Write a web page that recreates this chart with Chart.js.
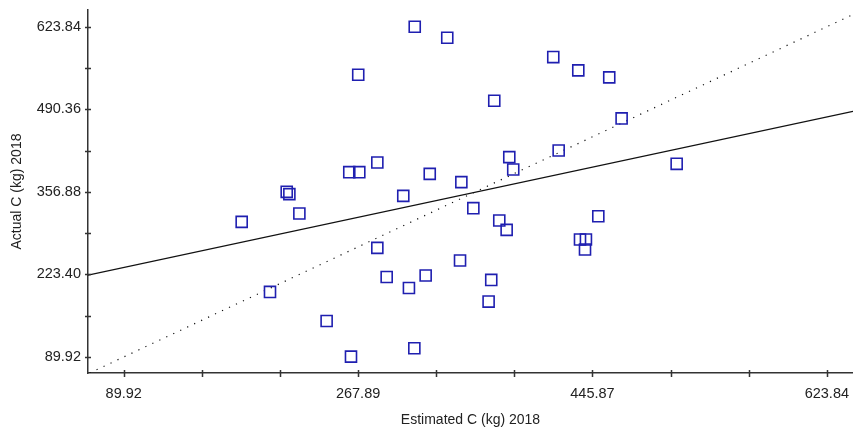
<!DOCTYPE html>
<html lang="en">
<head>
    <meta charset="UTF-8">
    <title>Estimated vs Actual C 2018</title>
    <script src="https://cdn.jsdelivr.net/npm/chart.js"></script>
    <style>
        body {
            margin: 0;
            padding: 0;
            background: #fff;
        }
        canvas {
            display: block;
        }
    </style>
</head>
<body>
    <canvas id="scatterChart" width="853" height="433"></canvas>

    <script>
        // values
        const estimated = [310.9, 335.6, 268.0, 416.1, 435.1, 458.6, 371.3, 468.0, 382.7, 385.7,
                           420.2, 282.5, 261.2, 268.8, 322.3, 346.3, 302.2, 355.4, 213.7, 215.7,
                           223.3, 179.5, 375.1, 380.7, 450.3, 436.4, 440.9, 440.2, 282.5, 345.3,
                           289.6, 319.2, 306.5, 369.0, 367.0, 201.0, 244.0, 262.5, 310.6, 509.8];
        const actual = [623.8, 606.0, 546.2, 574.8, 553.3, 542.0, 504.1, 475.6, 413.0, 393.1,
                        423.8, 404.4, 388.7, 388.7, 386.0, 372.6, 350.4, 330.5, 356.9, 353.2,
                        321.9, 308.3, 310.6, 295.4, 317.5, 279.8, 279.8, 263.7, 266.3, 245.9,
                        219.3, 221.6, 201.5, 214.5, 179.5, 195.1, 148.1, 90.5, 104.0, 402.2];

        const xTickValues = [89.92, 149.24, 208.57, 267.89, 327.21, 386.54, 445.87, 505.19, 564.52, 623.84];
        const xTickLabels = ['89.92', '', '', '267.89', '', '', '445.87', '', '', '623.84'];
        const yTickValues = [89.92, 156.66, 223.40, 290.14, 356.88, 423.62, 490.36, 557.10, 623.84];
        const yTickLabels = ['89.92', '', '223.40', '', '356.88', '', '490.36', '', '623.84'];

        const xRange = [62.8, 643.7];
        const yRange = [64.0, 650.9];

        // fitted line
        const fitSlope = 0.456;
        const fitIntercept = 193.6;

        const points = estimated.map((x, i) => ({ x: x, y: actual[i] }));
        const fitLine = xRange.map(x => ({ x: x, y: fitIntercept + fitSlope * x }));
        const lo = Math.max(xRange[0], yRange[0]);
        const hi = Math.min(xRange[1], yRange[1]);
        const oneToOne = [{ x: lo, y: lo }, { x: hi, y: hi }];

        const axisColor = '#333';
        const textColor = '#222';

        // tick marks that cross the axis line
        const crossTicks = {
            id: 'crossTicks',
            afterDraw(chart) {
                const ctx = chart.ctx;
                const xs = chart.scales.x;
                const ys = chart.scales.y;
                ctx.save();
                ctx.strokeStyle = axisColor;
                ctx.lineWidth = 1.5;
                ctx.beginPath();
                xs.ticks.forEach(t => {
                    const px = Math.round(xs.getPixelForValue(t.value)) + 0.5;
                    ctx.moveTo(px, xs.top - 3);
                    ctx.lineTo(px, xs.top + 4);
                });
                ys.ticks.forEach(t => {
                    const py = Math.round(ys.getPixelForValue(t.value)) + 0.5;
                    ctx.moveTo(ys.right - 3, py);
                    ctx.lineTo(ys.right + 3, py);
                });
                ctx.stroke();
                ctx.restore();
            }
        };

        const ctx = document.getElementById('scatterChart').getContext('2d');
        new Chart(ctx, {
            type: 'scatter',
            data: {
                datasets: [{
                    label: 'Data',
                    data: points,
                    pointStyle: 'rect',
                    pointRadius: 7.8,
                    pointBorderWidth: 1.6,
                    borderColor: '#1f1fb0',
                    backgroundColor: 'transparent',
                    order: 0
                }, {
                    label: 'Fit',
                    data: fitLine,
                    showLine: true,
                    borderColor: '#111',
                    borderWidth: 1.3,
                    pointRadius: 0,
                    order: 1
                }, {
                    label: '1:1',
                    data: oneToOne,
                    showLine: true,
                    borderColor: '#111',
                    borderWidth: 1.2,
                    borderDash: [1.2, 6.5],
                    pointRadius: 0,
                    order: 2
                }]
            },
            options: {
                responsive: false,
                animation: false,
                devicePixelRatio: 1,
                layout: { autoPadding: false, padding: { top: 10, right: 0, left: 0, bottom: 0 } },
                plugins: {
                    legend: { display: false },
                    tooltip: { enabled: false }
                },
                scales: {
                    x: {
                        type: 'linear',
                        min: xRange[0],
                        max: xRange[1],
                        afterBuildTicks: s => { s.ticks = xTickValues.map(v => ({ value: v })); },
                        afterFit: s => { s.height = 60; s.paddingLeft = 0; s.paddingRight = 0; },
                        grid: { display: false, drawTicks: false },
                        border: { display: true, color: axisColor, width: 1.5 },
                        ticks: {
                            autoSkip: false,
                            maxRotation: 0,
                            padding: 12,
                            color: textColor,
                            font: { family: 'Liberation Sans, Arial', size: 14.5 },
                            callback: (v, i) => xTickLabels[i]
                        },
                        title: {
                            display: true,
                            text: 'Estimated C (kg) 2018',
                            color: textColor,
                            font: { family: 'Liberation Sans, Arial', size: 14 },
                            padding: { top: 0, bottom: 4 }
                        }
                    },
                    y: {
                        type: 'linear',
                        min: yRange[0],
                        max: yRange[1],
                        afterBuildTicks: s => { s.ticks = yTickValues.map(v => ({ value: v })); },
                        afterFit: s => { s.width = 88; s.paddingTop = 0; s.paddingBottom = 0; },
                        grid: { display: false, drawTicks: false },
                        border: { display: true, color: axisColor, width: 1.5 },
                        ticks: {
                            autoSkip: false,
                            padding: 7,
                            color: textColor,
                            font: { family: 'Liberation Sans, Arial', size: 14.5 },
                            callback: (v, i) => yTickLabels[i]
                        },
                        title: {
                            display: true,
                            text: 'Actual C (kg) 2018',
                            color: textColor,
                            font: { family: 'Liberation Sans, Arial', size: 14 },
                            padding: { top: 9, bottom: 0 }
                        }
                    }
                }
            },
            plugins: [crossTicks]
        });
    </script>
</body>
</html>
